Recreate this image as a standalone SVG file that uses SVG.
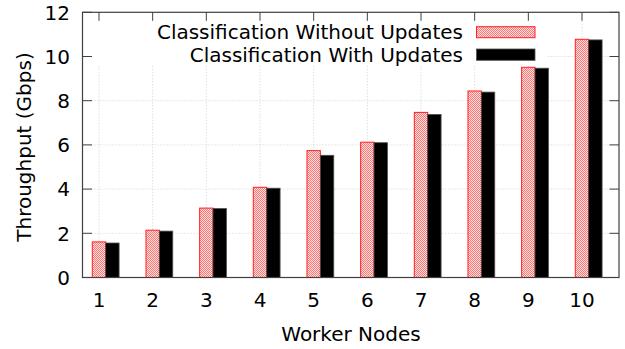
<svg xmlns="http://www.w3.org/2000/svg" width="625" height="349" viewBox="0 0 625 349">
  <defs>
    <pattern id="chk" patternUnits="userSpaceOnUse" width="2" height="2">
      <rect x="0" y="0" width="2" height="2" fill="#ffdede"/>
      <rect x="0" y="0" width="1" height="1" fill="#ff7878"/>
      <rect x="1" y="1" width="1" height="1" fill="#ff7878"/>
    </pattern>
    <style>
      text { font-family: "DejaVu Sans", "Liberation Sans", sans-serif; font-size: 20px; fill: #000; }
      .grid { stroke: #d0d0d0; stroke-width: 1; stroke-dasharray: 1 2; fill: none; }
      .tick { stroke: #404040; stroke-width: 1; fill: none; }
      .frame { stroke: #404040; stroke-width: 1.2; fill: none; }
      .pink { fill: url(#chk); stroke: #ff2020; stroke-width: 1; }
      .blk { fill: #000; stroke: #505050; stroke-width: 0.8; }
      .ylab { text-anchor: end; }
      .xlab { text-anchor: middle; }
      .leg { text-anchor: end; }
    </style>
  </defs>
  <rect width="625" height="349" fill="#fff"/>

  <g id="grid">
    <path class="grid" d="M82.5 233.3H619M82.5 189.1H619M82.5 144.9H619M82.5 100.7H619M82.5 56.5H619"/>
    <path class="grid" d="M99 12.3V277.5M152.67 12.3V277.5M206.33 12.3V277.5M260 12.3V277.5M313.67 12.3V277.5M367.33 12.3V277.5M421 12.3V277.5M474.67 12.3V277.5M528.33 12.3V277.5M582 12.3V277.5"/>
  </g>

  <rect id="legend-bg" x="83" y="13" width="463" height="52" fill="#fff"/>

  <g id="ticks">
    <path class="tick" d="M82.5 277.5h9.5M82.5 233.3h9.5M82.5 189.1h9.5M82.5 144.9h9.5M82.5 100.7h9.5M82.5 56.5h9.5M82.5 12.3h9.5"/>
    <path class="tick" d="M619 277.5h-9.5M619 233.3h-9.5M619 189.1h-9.5M619 144.9h-9.5M619 100.7h-9.5M619 56.5h-9.5M619 12.3h-9.5"/>
    <path class="tick" d="M99 12.3v8.5M152.67 12.3v8.5M206.33 12.3v8.5M260 12.3v8.5M313.67 12.3v8.5M367.33 12.3v8.5M421 12.3v8.5M474.67 12.3v8.5M528.33 12.3v8.5M582 12.3v8.5"/>
  </g>

  <g id="series-without-updates">
    <rect class="pink" x="92.3" y="241.9" width="13.4" height="35.6"/>
    <rect class="pink" x="145.97" y="230.2" width="13.4" height="47.3"/>
    <rect class="pink" x="199.63" y="208.1" width="13.4" height="69.4"/>
    <rect class="pink" x="253.3" y="187.3" width="13.4" height="90.2"/>
    <rect class="pink" x="306.97" y="150.6" width="13.4" height="126.9"/>
    <rect class="pink" x="360.63" y="142.2" width="13.4" height="135.3"/>
    <rect class="pink" x="414.3" y="112.4" width="13.4" height="165.1"/>
    <rect class="pink" x="467.97" y="91.0" width="13.4" height="186.5"/>
    <rect class="pink" x="521.63" y="67.3" width="13.4" height="210.2"/>
    <rect class="pink" x="575.3" y="39.3" width="13.4" height="238.2"/>
  </g>

  <g id="series-with-updates">
    <rect class="blk" x="105.7" y="243.0" width="13.4" height="34.5"/>
    <rect class="blk" x="159.37" y="231.1" width="13.4" height="46.4"/>
    <rect class="blk" x="213.03" y="208.5" width="13.4" height="69"/>
    <rect class="blk" x="266.7" y="188.2" width="13.4" height="89.3"/>
    <rect class="blk" x="320.37" y="155.3" width="13.4" height="122.2"/>
    <rect class="blk" x="374.03" y="142.7" width="13.4" height="134.8"/>
    <rect class="blk" x="427.7" y="114.4" width="13.4" height="163.1"/>
    <rect class="blk" x="481.37" y="92.1" width="13.4" height="185.4"/>
    <rect class="blk" x="535.03" y="68.2" width="13.4" height="209.3"/>
    <rect class="blk" x="588.7" y="39.9" width="13.4" height="237.6"/>
  </g>

  <rect id="frame" class="frame" x="82.5" y="12.3" width="536.5" height="265.2"/>

  <g id="y-axis-labels">
    <text class="ylab" x="70" y="284.7">0</text>
    <text class="ylab" x="70" y="240.5">2</text>
    <text class="ylab" x="70" y="196.3">4</text>
    <text class="ylab" x="70" y="152.1">6</text>
    <text class="ylab" x="70" y="107.9">8</text>
    <text class="ylab" x="70" y="63.7">10</text>
    <text class="ylab" x="70" y="19.5">12</text>
  </g>

  <g id="x-axis-labels">
    <text class="xlab" x="99" y="307">1</text>
    <text class="xlab" x="152.67" y="307">2</text>
    <text class="xlab" x="206.33" y="307">3</text>
    <text class="xlab" x="260" y="307">4</text>
    <text class="xlab" x="313.67" y="307">5</text>
    <text class="xlab" x="367.33" y="307">6</text>
    <text class="xlab" x="421" y="307">7</text>
    <text class="xlab" x="474.67" y="307">8</text>
    <text class="xlab" x="528.33" y="307">9</text>
    <text class="xlab" x="582" y="307">10</text>
  </g>

  <text id="x-title" class="xlab" x="351" y="341">Worker Nodes</text>
  <text id="y-title" class="xlab" transform="translate(31 147) rotate(-90)">Throughput (Gbps)</text>

  <g id="legend">
    <text class="leg" x="463" y="39.3">Classification Without Updates</text>
    <rect class="pink" x="476.5" y="26.7" width="58.5" height="11"/>
    <text class="leg" x="463" y="61.5">Classification With Updates</text>
    <rect class="blk" x="476.5" y="49" width="58.5" height="11.3"/>
  </g>
</svg>
